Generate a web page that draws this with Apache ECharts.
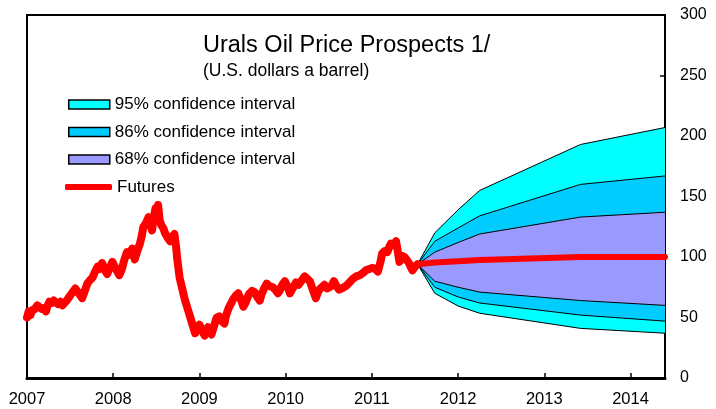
<!DOCTYPE html>
<html>
<head>
<meta charset="utf-8">
<script src="https://cdn.jsdelivr.net/npm/echarts@6/dist/echarts.min.js"></script>
<style>
html,body{margin:0;padding:0;background:#fff;}
#chart{width:716px;height:409px;}
</style>
</head>
<body>
<div id="chart"></div>
<script>
// ---- Data ----
const xTickLabels = ['2007','2008','2009','2010','2011','2012','2013','2014'];
const yTickLabels = ['0','50','100','150','200','250','300'];

const histYears = [
  2007.00,2007.02,2007.04,2007.06,2007.09,2007.12,2007.14,2007.17,2007.20,2007.22,
  2007.24,2007.26,2007.29,2007.31,2007.33,2007.36,2007.39,2007.41,2007.43,2007.46,
  2007.49,2007.52,2007.54,2007.56,2007.59,2007.62,2007.64,2007.67,2007.70,2007.72,
  2007.74,2007.76,2007.79,2007.82,2007.84,2007.87,2007.89,2007.91,2007.93,2007.96,
  2007.99,2008.01,2008.04,2008.07,2008.10,2008.13,2008.16,2008.19,2008.22,2008.25,
  2008.28,2008.31,2008.33,2008.35,2008.38,2008.41,2008.43,2008.45,2008.47,2008.49,
  2008.51,2008.52,2008.54,2008.56,2008.58,2008.60,2008.63,2008.66,2008.69,2008.71,
  2008.73,2008.74,2008.77,2008.80,2008.83,2008.86,2008.89,2008.92,2008.95,2008.97,
  2009.00,2009.02,2009.04,2009.06,2009.08,2009.10,2009.12,2009.14,2009.17,2009.20,
  2009.23,2009.26,2009.29,2009.31,2009.34,2009.37,2009.39,2009.42,2009.45,2009.48,
  2009.51,2009.54,2009.56,2009.58,2009.61,2009.64,2009.67,2009.70,2009.72,2009.75,
  2009.78,2009.81,2009.85,2009.88,2009.91,2009.93,2009.96,2009.99,2010.02,2010.05,
  2010.08,2010.12,2010.15,2010.18,2010.22,2010.25,2010.28,2010.31,2010.35,2010.37,
  2010.39,2010.42,2010.45,2010.48,2010.50,2010.53,2010.56,2010.59,2010.62,2010.65,
  2010.70,2010.74,2010.78,2010.82,2010.86,2010.90,2010.93,2010.97,2011.01,2011.04,
  2011.07,2011.10,2011.12,2011.15,2011.18,2011.20,2011.22,2011.25,2011.28,2011.30,
  2011.32,2011.35,2011.38,2011.41,2011.43,2011.45,2011.47,2011.50,2011.53
];
const histValues = [
  50,55,52,56,57,60,59,57,58,55,
  60,63,62,64,63,61,63,60,61,64,
  67,70,72,74,71,68,66,72,78,80,
  79,83,88,92,90,95,92,88,86,91,
  96,93,89,85,90,98,104,102,107,98,
  105,111,117,125,128,133,128,122,132,140,
  138,143,130,126,124,120,116,113,117,119,
  108,100,83,74,65,58,51,44,37,40,
  44,41,38,35,39,42,38,36,43,50,
  51,47,45,52,58,62,65,68,70,65,
  59,63,67,70,72,71,67,64,69,74,
  78,76,75,73,70,72,77,80,76,70,
  74,79,77,80,84,82,80,74,66,70,
  73,75,77,74,73,76,80,76,73,74,
  76,79,82,84,85,87,89,90,91,90,
  88,96,103,105,104,108,111,110,113,105,
  96,101,100,97,95,92,89,92,94
];

const fanYears = [2011.53, 2011.73, 2012.00, 2012.25, 2013.42, 2014.40];
const upper95  = [94, 120, 139, 155, 193, 207];
const upper86  = [94, 113, 124, 134, 160, 167];
const upper68  = [94, 104, 112, 119, 133, 137];
const lower68  = [94, 80, 75, 71, 64, 60];
const lower86  = [94, 75, 67, 62, 52, 47];
const lower95  = [94, 70, 59.5, 53.5, 41, 37];
const futures  = [94, 95.5, 96.5, 97.5, 100, 100];

const bandNames  = ['95% confidence interval','86% confidence interval','68% confidence interval'];
const bandColors = ['#00FFFF','#00CCFF','#9999FF'];
const futuresName = 'Futures';

// ---- Build ----
const FONT = '"Liberation Sans", Arial, sans-serif';
const pairs = (xs, ys) => xs.map((x, i) => [x, ys[i]]);

function bandSeries(name, color, upper, lower) {
  return {
    type: 'custom', name: name, silent: true, z: 2,
    itemStyle: { color: color },
    data: [[fanYears[0], upper[0]]],
    encode: { x: 0, y: 1 },
    renderItem: function (params, api) {
      const pts = [];
      for (let i = 0; i < fanYears.length; i++) pts.push(api.coord([fanYears[i], upper[i]]));
      for (let i = fanYears.length - 1; i >= 0; i--) pts.push(api.coord([fanYears[i], lower[i]]));
      return { type: 'polygon', shape: { points: pts }, style: { fill: color, stroke: null } };
    }
  };
}
function boundLine(name, vals) {
  return {
    type: 'line', name: name, silent: true, z: 3, symbol: 'none',
    lineStyle: { color: '#000', width: 1 }, itemStyle: { color: '#000' },
    data: pairs(fanYears, vals)
  };
}
function legendAt(name, top, opts) {
  return Object.assign({
    data: [name], left: 68, top: top, padding: 0, selectedMode: false,
    itemWidth: 41, itemHeight: 9,
    textStyle: { fontSize: 17, color: '#000', fontFamily: FONT }
  }, opts);
}

const chart = echarts.init(document.getElementById('chart'), null, { renderer: 'canvas' });
chart.setOption({
  animation: false,
  backgroundColor: '#fff',
  textStyle: { fontFamily: FONT },
  title: {
    text: 'Urals Oil Price Prospects 1/',
    subtext: '(U.S. dollars a barrel)',
    left: 203, top: 34, padding: 0, itemGap: 4,
    textStyle: { fontSize: 23.5, fontWeight: 'normal', color: '#000', fontFamily: FONT },
    subtextStyle: { fontSize: 17.5, color: '#000', fontFamily: FONT }
  },
  legend: [
    legendAt(bandNames[0], 96, { icon: 'rect', data: [{ name: bandNames[0], itemStyle: { color: bandColors[0], borderColor: '#000', borderWidth: 1.5 } }] }),
    legendAt(bandNames[1], 123.5, { icon: 'rect', data: [{ name: bandNames[1], itemStyle: { color: bandColors[1], borderColor: '#000', borderWidth: 1.5 } }] }),
    legendAt(bandNames[2], 151, { icon: 'rect', data: [{ name: bandNames[2], itemStyle: { color: bandColors[2], borderColor: '#000', borderWidth: 1.5 } }] }),
    legendAt(futuresName, 178.5, { left: 65, icon: 'roundRect', itemWidth: 47, itemHeight: 6, data: [{ name: futuresName, itemStyle: { color: '#FF0000', borderWidth: 0 } }] })
  ],
  grid: {
    left: 27, right: 51, top: 15, bottom: 31,
    show: true, borderColor: '#000', borderWidth: 2, backgroundColor: 'transparent'
  },
  xAxis: {
    type: 'value', min: 2007, max: 2014.4, interval: 1,
    axisLine: { show: true, onZero: false, lineStyle: { color: '#000', width: 3 } },
    axisTick: { show: true, inside: true, length: 5, lineStyle: { color: '#000', width: 1.5 } },
    axisLabel: {
      fontSize: 16.5, color: '#000', margin: 13, fontFamily: FONT, showMaxLabel: false,
      formatter: function (v) { const i = xTickLabels.indexOf(String(Math.round(v))); return (Math.abs(v - Math.round(v)) < 1e-6 && i >= 0) ? xTickLabels[i] : ''; }
    },
    splitLine: { show: false }
  },
  yAxis: {
    type: 'value', position: 'right', min: 0, max: 300, interval: 50,
    axisLine: { show: true, lineStyle: { color: '#000', width: 2 } },
    axisTick: { show: true, inside: true, length: 5, lineStyle: { color: '#000', width: 1.5 } },
    axisLabel: {
      fontSize: 16, color: '#000', margin: 15, fontFamily: FONT,
      formatter: function (v) { const i = yTickLabels.indexOf(String(v)); return i >= 0 ? yTickLabels[i] : ''; }
    },
    splitLine: { show: false }
  },
  series: [
    bandSeries(bandNames[0], bandColors[0], upper95, lower95),
    bandSeries(bandNames[1], bandColors[1], upper86, lower86),
    bandSeries(bandNames[2], bandColors[2], upper68, lower68),
    boundLine('u95', upper95), boundLine('u86', upper86), boundLine('u68', upper68),
    boundLine('l68', lower68), boundLine('l86', lower86), boundLine('l95', lower95),
    {
      type: 'line', name: futuresName, z: 4, symbol: 'none', silent: true,
      itemStyle: { color: '#FF0000' },
      lineStyle: { color: '#FF0000', width: 6, cap: 'round', join: 'round' },
      data: pairs(fanYears, futures)
    },
    {
      type: 'line', name: 'Urals', z: 4, symbol: 'none', silent: true,
      itemStyle: { color: '#FF0000' },
      lineStyle: { color: '#FF0000', width: 8, cap: 'round', join: 'round' },
      data: pairs(histYears, histValues)
    }
  ]
});
</script>
</body>
</html>
